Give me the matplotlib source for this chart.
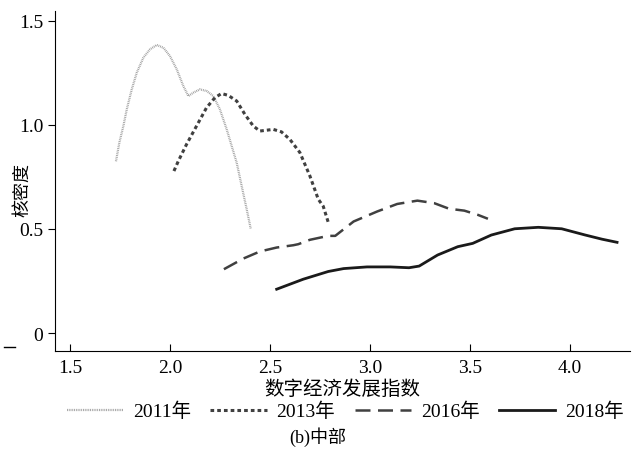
import numpy as np
import matplotlib
matplotlib.use('Agg')
import matplotlib.pyplot as plt
from matplotlib.lines import Line2D

plt.rcParams['font.family'] = ['Liberation Serif', 'Noto Sans CJK SC', 'DejaVu Sans']

# kernel density curves
x_2011 = [1.73, 1.747, 1.767, 1.784, 1.809, 1.834, 1.867, 1.90, 1.934, 1.967, 2.00, 2.034,
          2.067, 2.092, 2.117, 2.15, 2.184, 2.217, 2.25, 2.284, 2.309, 2.334, 2.359, 2.384, 2.404]
y_2011 = [0.825, 0.915, 0.994, 1.074, 1.170, 1.250, 1.322, 1.362, 1.383, 1.370, 1.330, 1.266,
          1.186, 1.138, 1.154, 1.170, 1.162, 1.138, 1.074, 0.978, 0.898, 0.818, 0.706, 0.595, 0.502]

x_2013 = [2.02, 2.042, 2.083, 2.133, 2.183, 2.225, 2.258, 2.292, 2.334, 2.375, 2.417, 2.45,
          2.484, 2.517, 2.558, 2.60, 2.65, 2.70, 2.742, 2.767, 2.795]
y_2013 = [0.778, 0.826, 0.906, 0.994, 1.082, 1.130, 1.150, 1.141, 1.114, 1.050, 0.994, 0.970,
          0.974, 0.978, 0.966, 0.930, 0.867, 0.755, 0.643, 0.609, 0.523]

x_2016 = [2.27, 2.367, 2.45, 2.534, 2.617, 2.642, 2.70, 2.792, 2.827, 2.919, 3.037, 3.137,
          3.238, 3.322, 3.397, 3.473, 3.54, 3.591]
y_2016 = [0.307, 0.358, 0.392, 0.411, 0.422, 0.427, 0.448, 0.467, 0.467, 0.536, 0.584, 0.620,
          0.636, 0.624, 0.597, 0.588, 0.568, 0.549]

x_2018 = [2.534, 2.667, 2.792, 2.869, 2.986, 3.103, 3.196, 3.247, 3.339, 3.44, 3.515, 3.608,
          3.725, 3.843, 3.96, 4.078, 4.162, 4.237]
y_2018 = [0.211, 0.259, 0.296, 0.310, 0.318, 0.318, 0.314, 0.322, 0.375, 0.415, 0.431, 0.471,
          0.501, 0.508, 0.501, 0.471, 0.451, 0.436]

x_ticks = [1.5, 2.0, 2.5, 3.0, 3.5, 4.0]
x_labels = ['1.5', '2.0', '2.5', '3.0', '3.5', '4.0']
y_ticks = [0, 0.5, 1.0, 1.5]
y_labels = ['0', '0.5', '1.0', '1.5']

fig = plt.figure(figsize=(6.36, 4.52), dpi=100)
ax = fig.add_axes([0.0865, 0.221, 0.9035, 0.752])

ax.plot(x_2011, y_2011, color='#a0a0a0', lw=1.6, dashes=(0.4, 0.4), label='2011年')
ax.plot(x_2013, y_2013, color='#404040', lw=2.2, dashes=(1.2, 1.0), label='2013年')
ax.plot(x_2016, y_2016, color='#404040', lw=1.8, dashes=(6, 3), label='2016年')
ax.plot(x_2018, y_2018, color='#1a1a1a', lw=2.0, label='2018年')

ax.set_xlim(1.425, 4.3)
ax.set_ylim(-0.086, 1.545)
ax.set_xticks(x_ticks)
ax.set_xticklabels(x_labels)
ax.set_yticks(y_ticks)
ax.set_yticklabels(y_labels)
ax.tick_params(axis='x', direction='in', length=5, labelsize=14, pad=6)
ax.tick_params(axis='y', direction='out', length=5, labelsize=14)
ax.spines['top'].set_visible(False)
ax.spines['right'].set_visible(False)

ax.set_xlabel('数字经济发展指数', fontsize=14, labelpad=2)
ax.set_ylabel('核密度', fontsize=13)
ax.yaxis.set_label_coords(-0.042, 0.476)

# small stray dash at the far left, as in the source figure
fig.add_artist(Line2D([0.006, 0.024], [0.23, 0.23], color='black', lw=1.0))

fig.legend(loc='center', bbox_to_anchor=(0.543, 0.088), ncol=4, frameon=False,
           fontsize=14, handlelength=2.9, handletextpad=0.5, columnspacing=1.0)
fig.text(0.5, 0.033, '(b)中部', ha='center', va='center', fontsize=13)

fig.savefig('out.png', dpi=100)
